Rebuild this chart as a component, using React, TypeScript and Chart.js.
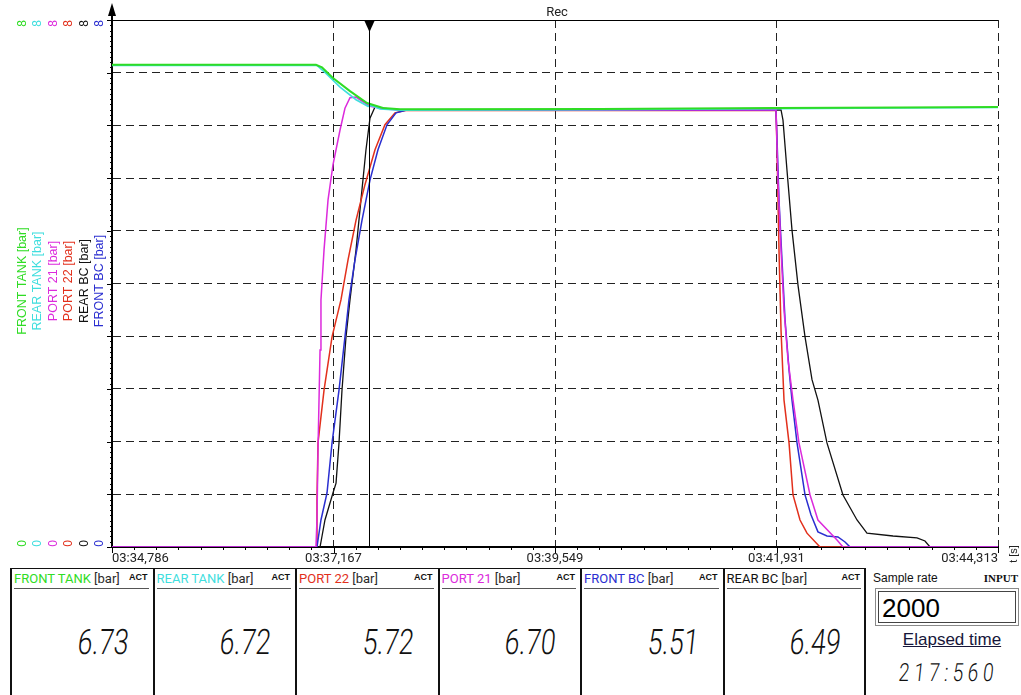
import React, { useEffect, useRef } from "react";
import { Chart, registerables } from "chart.js";

Chart.register(...registerables);

// Time axis: seconds elapsed since 03:34,786
const timeTicks = [0, 2.3818, 4.7635, 7.1453, 9.527];
const timeLabels = ["03:34,786", "03:37,167", "03:39,549", "03:41,931", "03:44,313"];
const pressureTicks = [0, 0.8, 1.6, 2.4, 3.2, 4.0, 4.8, 5.6, 6.4, 7.2, 8.0];
const cursorTime = 2.763;

// Recorded pressures [t (s), p (bar)]
const frontTank = [
  [0, 7.32], [2.193, 7.32], [2.258, 7.28], [2.376, 7.12], [2.559, 6.92], [2.742, 6.74],
  [2.914, 6.665], [3.097, 6.645], [5.247, 6.65], [7.14, 6.665], [8.473, 6.672], [9.527, 6.68],
];
const rearTank = [
  [0, 7.31], [2.204, 7.31], [2.301, 7.19], [2.452, 6.98], [2.624, 6.79], [2.753, 6.69],
  [2.796, 6.7], [2.882, 6.65], [3.097, 6.63], [5.247, 6.64], [7.14, 6.655], [8.473, 6.665], [9.527, 6.672],
];
const port21 = [
  [0, 0], [2.193, 0], [2.204, 0.41], [2.215, 1.47], [2.237, 2.99], [2.247, 3.75], [2.28, 4.51],
  [2.323, 5.27], [2.376, 5.8], [2.452, 6.33], [2.505, 6.66], [2.559, 6.82], [2.624, 6.83],
  [2.688, 6.77], [2.774, 6.69], [2.935, 6.65], [3.097, 6.634], [5.247, 6.634], [7.14, 6.634],
  [7.161, 5.57], [7.194, 4.51], [7.226, 3.6], [7.269, 2.84], [7.323, 2.23], [7.387, 1.58],
  [7.506, 0.79], [7.591, 0.41], [7.796, 0.106], [7.86, 0], [9.527, 0],
];
const port22 = [
  [0, 0], [2.199, 0], [2.204, 0.71], [2.215, 1.58], [2.28, 2.38], [2.366, 3.19], [2.462, 3.75],
  [2.538, 4.36], [2.624, 4.96], [2.72, 5.5], [2.828, 6.03], [2.935, 6.41], [3.043, 6.59],
  [3.151, 6.625], [5.247, 6.625], [7.14, 6.625], [7.151, 6.03], [7.172, 4.51], [7.194, 3.29],
  [7.226, 2.23], [7.28, 1.58], [7.323, 0.79], [7.398, 0.41], [7.473, 0.21], [7.613, 0], [9.527, 0],
];
const frontBC = [
  [0, 0], [2.204, 0], [2.247, 0.41], [2.312, 0.82], [2.366, 1.58], [2.441, 2.38], [2.505, 3.19],
  [2.548, 3.75], [2.613, 4.36], [2.688, 4.96], [2.774, 5.57], [2.86, 6.03], [2.957, 6.41],
  [3.054, 6.59], [3.161, 6.63], [5.247, 6.63], [7.14, 6.63], [7.151, 6.18], [7.172, 5.27],
  [7.204, 4.36], [7.237, 3.45], [7.28, 2.69], [7.312, 2.23], [7.366, 1.58], [7.452, 0.79],
  [7.516, 0.49], [7.591, 0.23], [7.688, 0.167], [7.806, 0.152], [7.882, 0.076], [7.936, 0], [9.527, 0],
];
const rearBC = [
  [0, 0], [2.237, 0], [2.29, 0.41], [2.376, 0.82], [2.409, 0.97], [2.441, 1.58], [2.473, 2.38],
  [2.516, 3.19], [2.559, 3.75], [2.624, 4.51], [2.677, 5.27], [2.731, 6.03], [2.774, 6.51],
  [2.828, 6.68], [2.935, 6.66], [3.097, 6.634], [5.247, 6.634], [7.14, 6.634], [7.194, 6.634],
  [7.215, 6.48], [7.258, 5.72], [7.312, 4.81], [7.376, 3.98], [7.452, 3.19], [7.527, 2.54],
  [7.591, 2.23], [7.688, 1.58], [7.86, 0.79], [8.011, 0.41], [8.118, 0.21], [8.398, 0.167],
  [8.656, 0.137], [8.742, 0.091], [8.796, 0], [9.527, 0],
];

// Current readings shown in the display panels
const panelNames = ["FRONT TANK", "REAR TANK", "PORT 22", "PORT 21", "FRONT BC", "REAR BC"];
const panelValues = [6.73, 6.72, 5.72, 6.7, 5.51, 6.49];
const sampleRate = 2000;
const elapsedTime = "217:560";

const COLORS: Record<string, string> = {
  "FRONT TANK": "#2fdc24",
  "REAR TANK": "#3fdede",
  "PORT 21": "#dc2adc",
  "PORT 22": "#e2301c",
  "REAR BC": "#111111",
  "FRONT BC": "#2a2ed0",
};

// Channel labels along the left edge, left to right
const axisChannels = ["FRONT TANK", "REAR TANK", "PORT 21", "PORT 22", "REAR BC", "FRONT BC"];
const axisMax = "8";
const axisMin = "0";

const series = [
  { name: "FRONT TANK", data: frontTank, width: 2 },
  { name: "REAR TANK", data: rearTank, width: 1.6 },
  { name: "PORT 21", data: port21, width: 1.5 },
  { name: "FRONT BC", data: frontBC, width: 1.5 },
  { name: "PORT 22", data: port22, width: 1.5 },
  { name: "REAR BC", data: rearBC, width: 1.3 },
];

const overlayPlugin = {
  id: "overlay",
  afterDraw(chart: any) {
    const { ctx, chartArea: a, scales } = chart;
    const xs = scales.x;
    const ys = scales.y;
    ctx.save();
    ctx.strokeStyle = "#000";
    ctx.fillStyle = "#000";
    ctx.setLineDash([]);

    // frame top
    ctx.lineWidth = 1;
    ctx.beginPath();
    ctx.moveTo(a.left, a.top + 0.5);
    ctx.lineTo(a.right, a.top + 0.5);
    ctx.stroke();

    // value axis extension with arrow
    ctx.lineWidth = 2;
    ctx.beginPath();
    ctx.moveTo(a.left, a.top);
    ctx.lineTo(a.left, 12);
    ctx.stroke();
    ctx.beginPath();
    ctx.moveTo(a.left, 3);
    ctx.lineTo(a.left - 4, 16);
    ctx.lineTo(a.left + 4, 16);
    ctx.closePath();
    ctx.fill();

    // value axis ticks
    ctx.lineWidth = 1;
    const step = (ys.getPixelForValue(0) - ys.getPixelForValue(0.8)) / 10;
    for (let i = 0; i <= 100; i++) {
      const py = Math.round(ys.getPixelForValue(0) - i * step) + 0.5;
      const len = i % 10 === 0 ? 5 : 2;
      ctx.beginPath();
      ctx.moveTo(a.left - len, py);
      ctx.lineTo(a.left, py);
      ctx.stroke();
    }

    // time axis ticks
    const xStep = (xs.getPixelForValue(timeTicks[1]) - xs.getPixelForValue(0)) / 10;
    for (let i = 0; i <= 40; i++) {
      const px = Math.round(a.left + i * xStep) + 0.5;
      const len = i % 10 === 0 ? 6 : 3;
      ctx.beginPath();
      ctx.moveTo(px, a.bottom);
      ctx.lineTo(px, a.bottom + len);
      ctx.stroke();
    }

    // cursor
    const cx = Math.round(xs.getPixelForValue(cursorTime)) + 0.5;
    ctx.beginPath();
    ctx.moveTo(cx, a.top);
    ctx.lineTo(cx, a.bottom);
    ctx.stroke();
    ctx.beginPath();
    ctx.moveTo(cx - 5, a.top + 1);
    ctx.lineTo(cx + 5, a.top + 1);
    ctx.lineTo(cx, a.top + 12);
    ctx.closePath();
    ctx.fill();

    // title
    ctx.font = '13px Roboto';
    ctx.textAlign = "center";
    ctx.textBaseline = "middle";
    ctx.fillStyle = "#222";
    ctx.fillText("Rec", (a.left + a.right) / 2 + 2, 13);

    // time unit
    ctx.save();
    ctx.translate(1014, 554);
    ctx.rotate(-Math.PI / 2);
    ctx.font = '11px "Liberation Sans"';
    ctx.fillText("t [s]", 0, 0);
    ctx.restore();

    // per-channel scale limits and names
    axisChannels.forEach((name, i) => {
      const colX = 22.5 + i * 15.5;
      ctx.fillStyle = COLORS[name];
      ctx.font = '12px "Liberation Sans"';
      ctx.save();
      ctx.translate(colX, 23.5);
      ctx.rotate(-Math.PI / 2);
      ctx.fillText(axisMax, 0, 0);
      ctx.restore();
      ctx.save();
      ctx.translate(colX, 543.5);
      ctx.rotate(-Math.PI / 2);
      ctx.fillText(axisMin, 0, 0);
      ctx.restore();
      ctx.save();
      ctx.translate(colX, 281);
      ctx.rotate(-Math.PI / 2);
      ctx.font = '12.5px "Liberation Sans"';
      ctx.fillText(name + " [bar]", 0, 0);
      ctx.restore();
    });

    ctx.restore();
  },
};

function SegmentText({ text, size, style }: { text: string; size: number; style: React.CSSProperties }) {
  return (
    <div
      style={{
        position: "absolute",
        fontFamily: "Roboto",
        fontWeight: 300,
        fontSize: size,
        lineHeight: 1,
        color: "#111",
        whiteSpace: "nowrap",
        fontVariantNumeric: "tabular-nums",
        ...style,
      }}
    >
      {text}
    </div>
  );
}

export default function App() {
  const canvasRef = useRef<HTMLCanvasElement>(null);

  useEffect(() => {
    const chart = new Chart(canvasRef.current as HTMLCanvasElement, {
      type: "line",
      data: {
        datasets: series.map((s) => ({
          label: s.name,
          data: s.data.map(([t, p]) => ({ x: t, y: p })),
          borderColor: COLORS[s.name],
          backgroundColor: COLORS[s.name],
          borderWidth: s.width,
          pointRadius: 0,
          tension: 0,
          fill: false,
        })),
      },
      options: {
        animation: false,
        responsive: false,
        devicePixelRatio: 1,
        layout: { padding: { top: 20, right: 23, left: 0, bottom: 0 } },
        plugins: { legend: { display: false }, tooltip: { enabled: false } },
        scales: {
          x: {
            type: "linear",
            min: 0,
            max: timeTicks[timeTicks.length - 1],
            afterBuildTicks: (scale: any) => {
              scale.ticks = timeTicks.map((v) => ({ value: v }));
            },
            afterFit: (scale: any) => {
              scale.height = 19;
            },
            grid: { color: "#222", lineWidth: 1, drawTicks: false },
            border: { display: true, color: "#000", width: 2, dash: [8, 5] },
            ticks: {
              autoSkip: false,
              maxRotation: 0,
              align: "inner",
              padding: 4,
              color: "#222",
              font: { family: "Roboto", size: 13 },
              callback: (_v: any, i: number) => timeLabels[i],
            },
          },
          y: {
            type: "linear",
            min: 0,
            max: 8,
            afterBuildTicks: (scale: any) => {
              scale.ticks = pressureTicks.map((v) => ({ value: v }));
            },
            afterFit: (scale: any) => {
              scale.width = 112;
            },
            grid: { color: "#222", lineWidth: 1, drawTicks: false },
            border: { display: true, color: "#000", width: 2, dash: [8, 5] },
            ticks: { display: false },
          },
        },
      },
      plugins: [overlayPlugin],
    } as any);
    return () => chart.destroy();
  }, []);

  const boxLeft = 10;
  const boxW = 142.5;

  return (
    <div
      style={{
        position: "absolute",
        left: 0,
        top: 0,
        width: 1021,
        height: 695,
        overflow: "hidden",
        background: "#fff",
        fontFamily: "Roboto, sans-serif",
      }}
    >
      <canvas ref={canvasRef} width={1021} height={566} style={{ position: "absolute", left: 0, top: 0 }} />

      {panelNames.map((name, i) => {
        const left = boxLeft + i * boxW;
        return (
          <div
            key={name}
            style={{
              position: "absolute",
              left,
              top: 568,
              width: boxW,
              height: 140,
              borderLeft: "2px solid #111",
              borderTop: "1px solid #111",
              boxSizing: "border-box",
            }}
          >
            <div style={{ position: "absolute", left: 2, top: 2, fontSize: 13, whiteSpace: "nowrap" }}>
              <span style={{ color: COLORS[name] }}>{name}</span>
              <span style={{ color: "#2a2a2a" }}> [bar]</span>
            </div>
            <div
              style={{
                position: "absolute",
                right: 5,
                top: 3,
                fontSize: 9,
                fontWeight: 700,
                color: "#111",
                fontFamily: '"Liberation Sans"',
              }}
            >
              ACT
            </div>
            <div style={{ position: "absolute", left: 2, right: 4, top: 19, height: 1, background: "#555" }} />
            <SegmentText
              text={panelValues[i].toFixed(2)}
              size={35}
              style={{
                right: 24,
                top: 56,
                transform: "skewX(-6deg) scaleX(0.76)",
                transformOrigin: "right center",
              }}
            />
          </div>
        );
      })}
      <div style={{ position: "absolute", left: boxLeft + 6 * boxW - 1, top: 568, width: 2, height: 140, background: "#111" }} />

      <div style={{ position: "absolute", left: 873, top: 571, fontSize: 12, fontFamily: '"Liberation Sans"', color: "#111" }}>
        Sample rate
      </div>
      <div
        style={{
          position: "absolute",
          right: 3,
          top: 572,
          fontSize: 11,
          fontWeight: 700,
          fontFamily: '"Liberation Serif"',
          color: "#111",
        }}
      >
        INPUT
      </div>
      <div
        style={{
          position: "absolute",
          left: 875,
          top: 588,
          width: 144,
          height: 38,
          border: "1px solid #8a8a8a",
          boxSizing: "border-box",
          padding: 2,
        }}
      >
        <div style={{ width: "100%", height: "100%", border: "1px solid #444", boxSizing: "border-box", position: "relative" }}>
          <div
            style={{
              position: "absolute",
              left: 3,
              top: 1,
              fontSize: 26,
              lineHeight: "30px",
              fontFamily: '"Liberation Sans"',
              color: "#000",
            }}
          >
            {sampleRate}
          </div>
        </div>
      </div>
      <div
        style={{
          position: "absolute",
          left: 872,
          width: 160,
          top: 630,
          textAlign: "center",
          fontSize: 17,
          fontFamily: '"Liberation Sans"',
          color: "#16163a",
          textDecoration: "underline",
        }}
      >
        Elapsed time
      </div>
      <SegmentText
        text={elapsedTime}
        size={25}
        style={{
          left: 899,
          top: 660,
          letterSpacing: 6,
          transform: "skewX(-6deg) scaleX(0.76)",
          transformOrigin: "left center",
        }}
      />
    </div>
  );
}
